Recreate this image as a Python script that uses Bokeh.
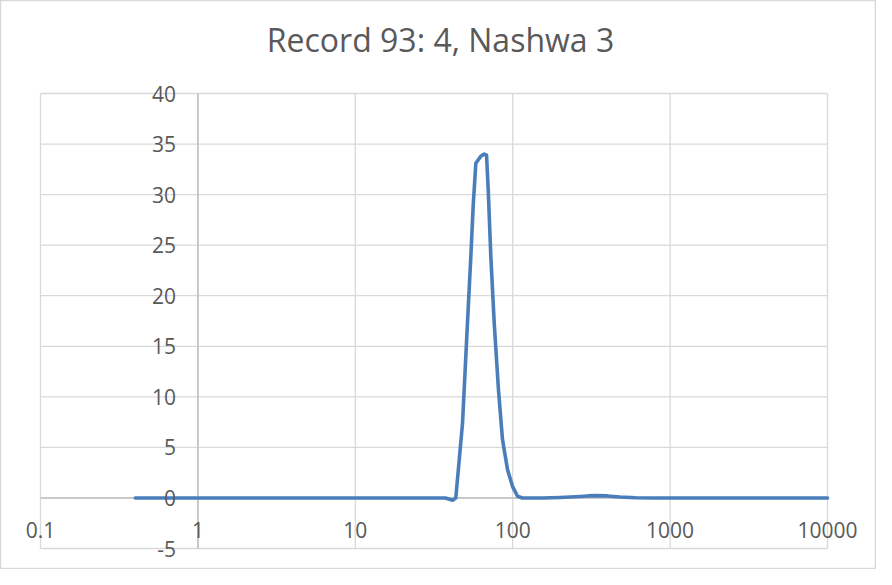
import math
from bokeh.plotting import figure
from bokeh.models import ColumnDataSource, Label, Range1d
from bokeh.core.properties import value
from bokeh.embed import file_html
from bokeh.resources import INLINE

# ---- data ----
title_text = "Record 93: 4, Nashwa 3"
x_ticks = [0.1, 1, 10, 100, 1000, 10000]
x_tick_labels = ["0.1", "1", "10", "100", "1000", "10000"]
y_ticks = [-5, 0, 5, 10, 15, 20, 25, 30, 35, 40]
y_tick_labels = ["-5", "0", "5", "10", "15", "20", "25", "30", "35", "40"]
x_cross = 1      # value axis crosses category axis at x = 1
y_cross = 0      # x axis crosses at y = 0

size_x = [0.4, 1, 10, 30, 37.4, 41.5, 43.5, 48.0, 51.6, 54.2, 56.1, 58.3, 62.7,
          65.9, 68.2, 69.9, 72.6, 76.3, 81.2, 86.1, 92.7, 99.7, 107.3, 115.4,
          130, 155, 200, 250, 300, 337, 400, 480, 603, 800, 1000, 3000, 10000]
value_y = [0, 0, 0, 0, 0, -0.23, 0, 7.4, 17.3, 23.9, 28.9, 33.1, 33.8,
           34.0, 33.9, 30.5, 23.9, 17.3, 10.7, 5.8, 2.8, 1.15, 0.17, 0,
           0, 0, 0.05, 0.12, 0.2, 0.23, 0.2, 0.1, 0.02, 0, 0, 0, 0]

# ---- layout (pixels) ----
W, H = 876, 569
PLOT_L, PLOT_R, PLOT_T, PLOT_B = 40, 827, 93, 548   # plot-area edges inside the chart

TEXT = "#595959"
GRID = "#d9d9d9"
AXIS = "#bfbfbf"
FONT = "Open Sans"

# extend the data ranges so that the grid area sits at the plot-area pixels
lx0, lx1 = math.log10(x_ticks[0]), math.log10(x_ticks[-1])
dpx = (lx1 - lx0) / (PLOT_R - PLOT_L)
x_start = 10 ** (lx0 - PLOT_L * dpx)
x_end = 10 ** (lx1 + (W - PLOT_R) * dpx)
y0, y1 = y_ticks[0], y_ticks[-1]
dpy = (y1 - y0) / (PLOT_B - PLOT_T)
y_start = y0 - (H - PLOT_B) * dpy
y_end = y1 + PLOT_T * dpy

p = figure(width=W, height=H, x_axis_type="log",
           x_range=Range1d(x_start, x_end), y_range=Range1d(y_start, y_end),
           output_backend="svg", toolbar_location=None,
           min_border=0, min_border_left=0, min_border_right=0,
           min_border_top=0, min_border_bottom=0,
           background_fill_color="white", border_fill_color="white")
p.outline_line_color = GRID
p.outline_line_width = 1.5
for ax in p.axis:
    ax.visible = False
p.xgrid.visible = False
p.ygrid.visible = False

# gridlines limited to the plot area
x0, x1 = x_ticks[0], x_ticks[-1]
p.segment(x0=x_ticks, y0=[y0] * len(x_ticks), x1=x_ticks, y1=[y1] * len(x_ticks),
          line_color=GRID, line_width=1.3)
p.segment(x0=[x0] * len(y_ticks), y0=y_ticks, x1=[x1] * len(y_ticks), y1=y_ticks,
          line_color=GRID, line_width=1.3)

# title
p.add_layout(Label(x=440, y=H - 39, x_units="screen", y_units="screen",
                   text=title_text, text_font=FONT, text_font_size="32px",
                   text_color=TEXT, text_align="center", text_baseline="middle"))

# axis lines crossing inside the plot
p.segment(x0=[x_cross], y0=[y0], x1=[x_cross], y1=[y1], line_color=AXIS, line_width=1.5)
p.segment(x0=[x0], y0=[y_cross], x1=[x1], y1=[y_cross], line_color=AXIS, line_width=1.5)

# series
src = ColumnDataSource(dict(x=size_x, y=value_y))
p.line("x", "y", source=src, line_color="#4a7ebb", line_width=3.6,
       line_join="round", line_cap="round")

# tick labels
xl = ColumnDataSource(dict(x=x_ticks, y=[y_cross] * len(x_ticks), t=x_tick_labels))
p.text("x", "y", text="t", source=xl, text_font=value(FONT), text_font_size="21px",
       text_color=TEXT, text_align="center", text_baseline="middle", y_offset=32)
yl = ColumnDataSource(dict(x=[x_cross] * len(y_ticks), y=y_ticks, t=y_tick_labels))
p.text("x", "y", text="t", source=yl, text_font=value(FONT), text_font_size="21px",
       text_color=TEXT, text_align="right", text_baseline="middle", x_offset=-22)

open("out.html", "w").write(file_html(p, INLINE))
